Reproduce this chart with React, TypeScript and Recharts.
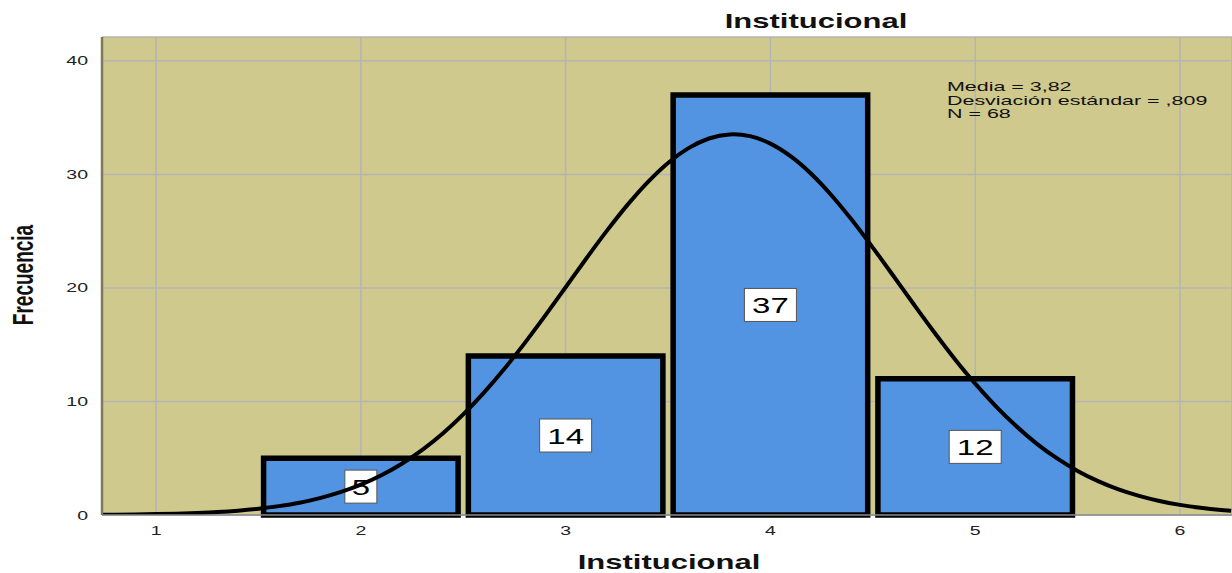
import React from 'react';
import { ComposedChart, Line, Scatter, XAxis, YAxis, CartesianGrid, ReferenceArea } from 'recharts';

// histogram bins (Institucional)
const binLow = [1.5, 2.5, 3.5, 4.5];
const binHigh = [2.5, 3.5, 4.5, 5.5];
const binCount = [5, 14, 37, 12];

// normal curve
const curveX = [
  0.74, 0.8, 0.9, 1.0, 1.1, 1.2, 1.3, 1.4, 1.5, 1.6, 1.7, 1.8, 1.9, 2.0, 2.1, 2.2, 2.3, 2.4, 2.5, 2.6,
  2.7, 2.8, 2.9, 3.0, 3.1, 3.2, 3.3, 3.4, 3.5, 3.6, 3.7, 3.8, 3.82, 3.9, 4.0, 4.1, 4.2, 4.3, 4.4, 4.5,
  4.6, 4.7, 4.8, 4.9, 5.0, 5.1, 5.2, 5.3, 5.4, 5.5, 5.6, 5.7, 5.8, 5.9, 6.0, 6.1, 6.2, 6.25,
];
const curveY = [
  0.02, 0.03, 0.05, 0.08, 0.12, 0.18, 0.26, 0.38, 0.55, 0.78, 1.08, 1.49, 2.01, 2.67, 3.5, 4.52, 5.74, 7.18, 8.86, 10.76,
  12.86, 15.14, 17.56, 20.06, 22.57, 25.0, 27.27, 29.3, 31.01, 32.31, 33.16, 33.52, 33.53, 33.37, 32.71, 31.58, 30.03, 28.12, 25.93, 23.55,
  21.07, 18.56, 16.1, 13.75, 11.57, 9.59, 7.83, 6.29, 4.98, 3.88, 2.98, 2.25, 1.68, 1.23, 0.89, 0.63, 0.44, 0.37,
];

const xTicks = [1, 2, 3, 4, 5, 6];
const yTicks = [0, 10, 20, 30, 40];
const statLines = ['Media = 3,82', 'Desviación estándar = ,809', 'N = 68'];

const curveData = curveX.map((x, i) => ({ x, y: curveY[i] }));
const labelData = binCount.map((c, i) => ({ x: (binLow[i] + binHigh[i]) / 2, y: c / 2, count: c }));

const FONT = 'Liberation Sans, Arial, sans-serif';
const STRETCH = 1.5; // the source image is widened horizontally
const BAR_INSET = 0.025;

const XTick = ({ x, y, payload }: any) => (
  <text
    transform={`translate(${x},${y + 18}) scale(${STRETCH},1)`}
    textAnchor="middle"
    fontFamily={FONT}
    fontSize={13}
    fill="#222"
  >
    {payload.value}
  </text>
);

const YTick = ({ x, y, payload }: any) => (
  <text
    transform={`translate(${x - 12},${y + 4.5}) scale(${STRETCH},1)`}
    textAnchor="end"
    fontFamily={FONT}
    fontSize={13}
    fill="#222"
  >
    {payload.value}
  </text>
);

const CountBox = ({ cx, cy, payload }: any) => {
  if (cx == null || cy == null) return null;
  const txt = String(payload.count);
  const w = txt.length * 20 + 12;
  const h = 33;
  return (
    <g>
      <rect x={cx - w / 2} y={cy - h / 2} width={w} height={h} fill="#fff" stroke="#555" strokeWidth={1} />
      <text
        transform={`translate(${cx},${cy + 8}) scale(${STRETCH},1)`}
        textAnchor="middle"
        fontFamily={FONT}
        fontSize={22}
        fill="#000"
      >
        {txt}
      </text>
    </g>
  );
};

const App: React.FC = () => {
  return (
    <div style={{ position: 'absolute', left: 0, top: 0, width: 1232, height: 573, background: '#fff' }}>
      <ComposedChart width={1232} height={573} margin={{ top: 37, right: 0, bottom: 0, left: 0 }}>
        <CartesianGrid fill="#d0c98d" stroke="#b4b4b4" strokeWidth={1.5} />
        <XAxis
          type="number"
          dataKey="x"
          domain={[0.736, 6.254]}
          allowDataOverflow
          ticks={xTicks}
          height={58}
          tickSize={0}
          tickLine={false}
          axisLine={{ stroke: '#8c8c8c', strokeWidth: 1.5 }}
          tick={<XTick />}
        />
        <YAxis
          type="number"
          domain={[0, 42.1]}
          allowDataOverflow
          ticks={yTicks}
          width={102}
          tickSize={0}
          tickLine={false}
          axisLine={{ stroke: '#7d7a5c', strokeWidth: 2.5 }}
          tick={<YTick />}
        />

        {binCount.map((c, i) => (
          <ReferenceArea
            key={i}
            x1={binLow[i] + BAR_INSET}
            x2={binHigh[i] - BAR_INSET}
            y1={0}
            y2={c}
            fill="#5294e2"
            fillOpacity={1}
            stroke="#000"
            strokeWidth={5.5}
            ifOverflow="visible"
          />
        ))}

        <Scatter data={labelData} dataKey="y" shape={<CountBox />} isAnimationActive={false} zIndex={350} />

        <Line
          data={curveData}
          dataKey="y"
          type="monotone"
          stroke="#000"
          strokeWidth={4}
          dot={false}
          activeDot={false}
          isAnimationActive={false}
          zIndex={450}
        />
      </ComposedChart>

      <svg width={1232} height={573} style={{ position: 'absolute', left: 0, top: 0, pointerEvents: 'none' }}>
        <text
          transform={`translate(816,28) scale(1.55,1)`}
          textAnchor="middle"
          fontFamily={FONT}
          fontWeight="bold"
          fontSize={20}
          fill="#111"
        >
          Institucional
        </text>
        <text
          transform={`translate(669,569) scale(1.55,1)`}
          textAnchor="middle"
          fontFamily={FONT}
          fontWeight="bold"
          fontSize={20}
          fill="#111"
        >
          Institucional
        </text>
        <text
          transform={`translate(33,275) scale(1.55,1) rotate(-90)`}
          textAnchor="middle"
          fontFamily={FONT}
          fontWeight="bold"
          fontSize={19}
          fill="#111"
        >
          Frecuencia
        </text>
        {statLines.map((s, i) => (
          <text
            key={s}
            transform={`translate(947,${91 + i * 13.5}) scale(1.65,1)`}
            fontFamily={FONT}
            fontSize={13}
            fill="#111"
          >
            {s}
          </text>
        ))}
      </svg>
    </div>
  );
};

export default App;
